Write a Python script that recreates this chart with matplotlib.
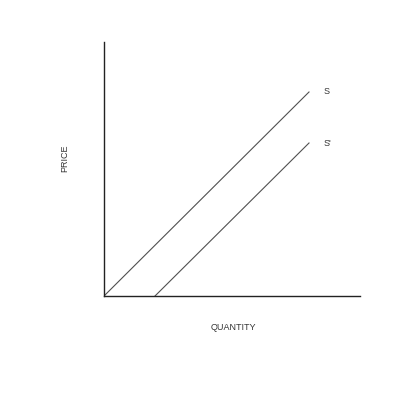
import matplotlib.pyplot as plt

plt.rcParams['font.family'] = ['Liberation Sans', 'DejaVu Sans']

# supply curves as (quantity, price) endpoints
s_q = [0, 205]
s_p = [0, 204]
s2_q = [51, 205]
s2_p = [0, 153]
labels = ['S', "S'"]

fig = plt.figure(figsize=(4, 4), dpi=100)
ax = fig.add_axes([0.26, 0.26, 0.64, 0.635])
ax.plot(s_q, s_p, color='#505050', lw=0.8)
ax.plot(s2_q, s2_p, color='#505050', lw=0.8)
ax.text(s_q[1] + 15, s_p[1], labels[0], fontsize=6.5, color='#333333', va='center')
ax.text(s2_q[1] + 15, s2_p[1], labels[1], fontsize=6.5, color='#333333', va='center')

ax.set_xlim(0, 256)
ax.set_ylim(0, 254)
for side in ['top', 'right']:
    ax.spines[side].set_visible(False)
for side in ['left', 'bottom']:
    ax.spines[side].set_linewidth(1.0)
    ax.spines[side].set_color('#222222')
ax.set_xticks([])
ax.set_yticks([])

fig.text(233 / 400, 1 - 328 / 400, 'QUANTITY', fontsize=6.5, color='#333333',
         ha='center', va='center')
fig.text(65 / 400, 1 - 158 / 400, 'PRICE', fontsize=6.5, color='#333333',
         ha='center', va='center', rotation=90)

fig.savefig('out.png', dpi=100)
